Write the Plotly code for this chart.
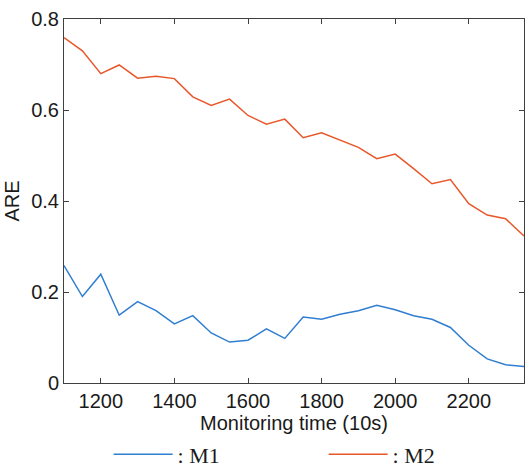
import plotly.graph_objects as go

time = [1100, 1150, 1200, 1250, 1300, 1350, 1400, 1450, 1500, 1550, 1600, 1650, 1700,
        1750, 1800, 1850, 1900, 1950, 2000, 2050, 2100, 2150, 2200, 2250, 2300, 2350]
m1 = [0.258, 0.190, 0.239, 0.149, 0.179, 0.159, 0.130, 0.148, 0.110, 0.090, 0.094, 0.119, 0.098,
      0.145, 0.140, 0.151, 0.159, 0.171, 0.161, 0.148, 0.140, 0.122, 0.083, 0.053, 0.040, 0.036]
m2 = [0.759, 0.730, 0.680, 0.699, 0.670, 0.674, 0.669, 0.629, 0.610, 0.624, 0.588, 0.569, 0.580,
      0.539, 0.550, 0.534, 0.518, 0.493, 0.503, 0.471, 0.438, 0.447, 0.394, 0.369, 0.361, 0.323]
x_ticks = [1200, 1400, 1600, 1800, 2000, 2200]
y_ticks = [0, 0.2, 0.4, 0.6, 0.8]
y_tick_labels = ["0", "0.2", "0.4", "0.6", "0.8"]

fig = go.Figure()
fig.add_trace(go.Scatter(x=time, y=m1, mode="lines", name=": M1",
                         line=dict(color="#2f7ed0", width=1.5)))
fig.add_trace(go.Scatter(x=time, y=m2, mode="lines", name=": M2",
                         line=dict(color="#e8572a", width=1.5)))

axis_common = dict(showline=True, linecolor="#404040", linewidth=1, mirror="ticks",
                   ticks="inside", ticklen=5, tickcolor="#404040", showgrid=False,
                   zeroline=False, tickfont=dict(family="Arial, Liberation Sans", size=20, color="#1a1a1a"))

fig.update_layout(
    width=525, height=465,
    margin=dict(l=64, r=1, t=19, b=82, autoexpand=False),
    paper_bgcolor="white", plot_bgcolor="white",
    xaxis=dict(range=[1100, 2350], tickvals=x_ticks, ticktext=[str(v) for v in x_ticks],
               title=dict(text="Monitoring time (10s)", standoff=0,
                          font=dict(family="Arial, Liberation Sans", size=20, color="#1a1a1a")),
               **axis_common),
    yaxis=dict(range=[0, 0.8], tickvals=y_ticks, ticktext=y_tick_labels,
               title=dict(text="ARE", standoff=6,
                          font=dict(family="Arial, Liberation Sans", size=20, color="#1a1a1a")),
               **axis_common),
    legend=dict(orientation="h", x=0.097, y=-0.1385, xanchor="left", yanchor="top",
                font=dict(family="Liberation Serif, Times New Roman", size=22, color="#1a1a1a"),
                itemwidth=59, entrywidth=141, entrywidthmode="pixels", bgcolor="rgba(0,0,0,0)"),
)

fig.write_html("out.html", config={"displayModeBar": False},
               post_script="document.body.style.margin='0';document.body.style.overflow='hidden';")
